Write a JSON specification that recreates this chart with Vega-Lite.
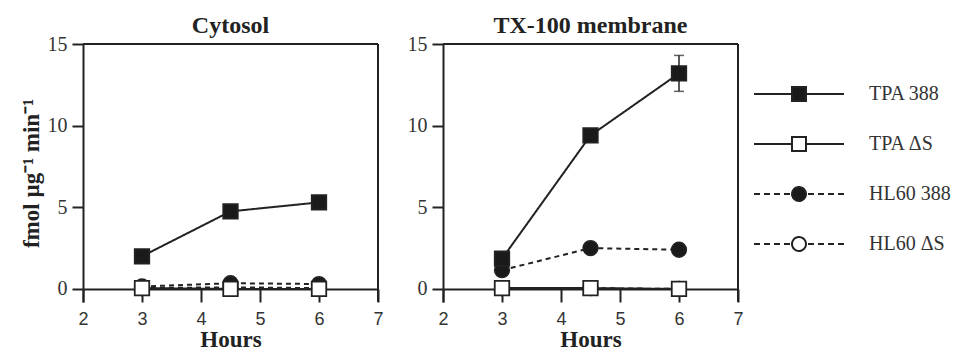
{
  "$schema": "https://vega.github.io/schema/vega-lite/v6.json",
  "padding": {"left": 20, "top": 14, "right": 5, "bottom": 0},
  "background": "white",
  "datasets": {
    "d": [
      {"panel": "Cytosol", "series": "HL60 ΔS", "cell": "HL60", "construct": "ΔS", "hours": 3, "value": 0.05},
      {"panel": "Cytosol", "series": "HL60 ΔS", "cell": "HL60", "construct": "ΔS", "hours": 4.5, "value": 0.1},
      {"panel": "Cytosol", "series": "HL60 ΔS", "cell": "HL60", "construct": "ΔS", "hours": 6, "value": 0.05},
      {"panel": "Cytosol", "series": "HL60 388", "cell": "HL60", "construct": "388", "hours": 3, "value": 0.15},
      {"panel": "Cytosol", "series": "HL60 388", "cell": "HL60", "construct": "388", "hours": 4.5, "value": 0.35},
      {"panel": "Cytosol", "series": "HL60 388", "cell": "HL60", "construct": "388", "hours": 6, "value": 0.3},
      {"panel": "Cytosol", "series": "TPA ΔS", "cell": "TPA", "construct": "ΔS", "hours": 3, "value": 0.05},
      {"panel": "Cytosol", "series": "TPA ΔS", "cell": "TPA", "construct": "ΔS", "hours": 4.5, "value": 0},
      {"panel": "Cytosol", "series": "TPA ΔS", "cell": "TPA", "construct": "ΔS", "hours": 6, "value": 0},
      {"panel": "Cytosol", "series": "TPA 388", "cell": "TPA", "construct": "388", "hours": 3, "value": 2.0},
      {"panel": "Cytosol", "series": "TPA 388", "cell": "TPA", "construct": "388", "hours": 4.5, "value": 4.75},
      {"panel": "Cytosol", "series": "TPA 388", "cell": "TPA", "construct": "388", "hours": 6, "value": 5.3},
      {"panel": "TX-100 membrane", "series": "HL60 ΔS", "cell": "HL60", "construct": "ΔS", "hours": 3, "value": 0.05},
      {"panel": "TX-100 membrane", "series": "HL60 ΔS", "cell": "HL60", "construct": "ΔS", "hours": 4.5, "value": 0.05},
      {"panel": "TX-100 membrane", "series": "HL60 ΔS", "cell": "HL60", "construct": "ΔS", "hours": 6, "value": 0},
      {"panel": "TX-100 membrane", "series": "HL60 388", "cell": "HL60", "construct": "388", "hours": 3, "value": 1.15},
      {"panel": "TX-100 membrane", "series": "HL60 388", "cell": "HL60", "construct": "388", "hours": 4.5, "value": 2.5},
      {"panel": "TX-100 membrane", "series": "HL60 388", "cell": "HL60", "construct": "388", "hours": 6, "value": 2.4},
      {"panel": "TX-100 membrane", "series": "TPA ΔS", "cell": "TPA", "construct": "ΔS", "hours": 3, "value": 0.05},
      {"panel": "TX-100 membrane", "series": "TPA ΔS", "cell": "TPA", "construct": "ΔS", "hours": 4.5, "value": 0.05},
      {"panel": "TX-100 membrane", "series": "TPA ΔS", "cell": "TPA", "construct": "ΔS", "hours": 6, "value": 0},
      {"panel": "TX-100 membrane", "series": "TPA 388", "cell": "TPA", "construct": "388", "hours": 3, "value": 1.85},
      {"panel": "TX-100 membrane", "series": "TPA 388", "cell": "TPA", "construct": "388", "hours": 4.5, "value": 9.4},
      {"panel": "TX-100 membrane", "series": "TPA 388", "cell": "TPA", "construct": "388", "hours": 6, "value": 13.2, "lo": 12.1, "hi": 14.3}
    ]
  },
  "config": {
    "view": {"stroke": null},
    "scale": {"zero": false},
    "axis": {"grid": false, "domainColor": "#222", "domainWidth": 2, "tickColor": "#222", "tickWidth": 2, "labelColor": "#333", "titleColor": "#222"},
    "title": {"font": "Liberation Serif", "fontSize": 24, "fontWeight": "bold", "color": "#222", "anchor": "middle", "offset": -4, "baseline": "alphabetic"}
  },
  "spacing": 23,
  "hconcat": [
    {
      "width": 295, "height": 258,
      "title": {"text": "Cytosol"},
      "layer": [
        {"data": {"values": [{}]}, "mark": {"type": "rule", "color": "#222", "strokeWidth": 2}, "encoding": {"x": {"datum": 7, "type": "quantitative", "scale": {"domain": [2, 7], "nice": false}}}},
        {"data": {"values": [{}]}, "mark": {"type": "rule", "color": "#222", "strokeWidth": 2}, "encoding": {"y": {"datum": 15, "type": "quantitative", "scale": {"domain": [-0.8, 15], "nice": false}}}},
        {
          "data": {"name": "d"},
          "transform": [{"filter": "datum.panel === 'Cytosol'"}],
          "layer": [
            {
              "mark": {"type": "line", "strokeWidth": 2, "color": "#222"},
              "encoding": {
                "x": {"field": "hours", "type": "quantitative", "scale": {"domain": [2, 7], "nice": false}, "axis": {"values": [2, 3, 4, 5, 6, 7], "format": "d", "offset": -13, "tickSize": 13, "labelFont": "Liberation Sans", "labelFontSize": 18, "labelPadding": 8, "labelFlush": false, "title": "Hours", "titleFont": "Liberation Serif", "titleFontSize": 23, "titleFontWeight": "bold", "titlePadding": 0}},
                "y": {"field": "value", "type": "quantitative", "scale": {"domain": [-0.8, 15], "nice": false}, "axis": {"values": [0, 5, 10, 15], "tickSize": 11, "labelFont": "Liberation Serif", "labelFontSize": 20, "labelPadding": 5, "labelFlush": false, "title": "fmol  µg⁻¹ min⁻¹", "titleFont": "Liberation Serif", "titleFontSize": 23, "titleFontWeight": "bold", "titlePadding": 4}},
                "detail": {"field": "series", "type": "nominal"},
                "strokeDash": {"field": "cell", "type": "nominal", "scale": {"domain": ["TPA", "HL60"], "range": [[1, 0], [5, 4]]}, "legend": null}
              }
            },
            {
              "mark": {"type": "point", "filled": true, "size": 210, "stroke": "#222", "strokeWidth": 1.8, "fillOpacity": 1},
              "encoding": {
                "x": {"field": "hours", "type": "quantitative", "title": "Hours", "scale": {"domain": [2, 7], "nice": false}},
                "y": {"field": "value", "type": "quantitative", "title": "fmol  µg⁻¹ min⁻¹", "scale": {"domain": [-0.8, 15], "nice": false}},
                "shape": {"field": "cell", "type": "nominal", "scale": {"domain": ["TPA", "HL60"], "range": ["square", "circle"]}, "legend": null},
                "fill": {"field": "construct", "type": "nominal", "scale": {"domain": ["388", "ΔS"], "range": ["#1a1a1a", "#ffffff"]}, "legend": null},
                "opacity": {"field": "series", "type": "nominal", "scale": {"domain": ["TPA 388", "TPA ΔS", "HL60 388", "HL60 ΔS"], "range": [1, 1, 1, 1]},
                  "legend": {
                    "orient": "none", "legendX": 706, "legendY": 40, "title": null,
                    "symbolSize": 225, "symbolOpacity": 1, "labelFont": "Liberation Serif", "labelFontSize": 20, "labelColor": "#333", "labelOffset": 60, "rowPadding": 28,
                    "encoding": {"symbols": {
                      "shape": {"value": {"expr": "datum.value === 'TPA 388' || datum.value === 'TPA ΔS' ? 'M-6,0H-0.93M0.93,0H6M-0.93,-0.93H0.93V0.93H-0.93Z' : 'M-6,0H-5.2M-4.67,0H-3.87M-3.33,0H-2.53M-2,0H-1.2M1.2,0H2M2.53,0H3.33M3.87,0H4.67M5.2,0H6M0.93,0A0.93,0.93,0,1,1,-0.93,0A0.93,0.93,0,1,1,0.93,0Z'"}},
                      "fill": {"value": {"expr": "datum.value === 'TPA 388' || datum.value === 'HL60 388' ? '#1a1a1a' : '#ffffff'"}},
                      "fillOpacity": {"value": 1},
                      "stroke": {"value": "#222"}, "strokeWidth": {"value": 2}, "strokeDash": {"value": [1, 0]}, "size": {"value": 225}
                    }}
                  }}
              }
            }
          ]
        }
      ]
    },
    {
      "width": 295, "height": 258,
      "title": {"text": "TX-100 membrane"},
      "layer": [
        {"data": {"values": [{}]}, "mark": {"type": "rule", "color": "#222", "strokeWidth": 2}, "encoding": {"x": {"datum": 7, "type": "quantitative", "scale": {"domain": [2, 7], "nice": false}}}},
        {"data": {"values": [{}]}, "mark": {"type": "rule", "color": "#222", "strokeWidth": 2}, "encoding": {"y": {"datum": 15, "type": "quantitative", "scale": {"domain": [-0.8, 15], "nice": false}}}},
        {
          "data": {"name": "d"},
          "transform": [{"filter": "datum.panel === 'TX-100 membrane'"}],
          "layer": [
            {
              "mark": {"type": "line", "strokeWidth": 2, "color": "#222"},
              "encoding": {
                "x": {"field": "hours", "type": "quantitative", "scale": {"domain": [2, 7], "nice": false}, "axis": {"values": [2, 3, 4, 5, 6, 7], "format": "d", "offset": -13, "tickSize": 13, "labelFont": "Liberation Sans", "labelFontSize": 18, "labelPadding": 8, "labelFlush": false, "title": "Hours", "titleFont": "Liberation Serif", "titleFontSize": 23, "titleFontWeight": "bold", "titlePadding": 0}},
                "y": {"field": "value", "type": "quantitative", "scale": {"domain": [-0.8, 15], "nice": false}, "axis": {"values": [0, 5, 10, 15], "tickSize": 11, "labelFont": "Liberation Serif", "labelFontSize": 20, "labelPadding": 5, "labelFlush": false, "title": null}},
                "detail": {"field": "series", "type": "nominal"},
                "strokeDash": {"field": "cell", "type": "nominal", "scale": {"domain": ["TPA", "HL60"], "range": [[1, 0], [5, 4]]}, "legend": null}
              }
            },
            {
              "transform": [{"filter": "isValid(datum.lo)"}],
              "mark": {"type": "rule", "color": "#222", "strokeWidth": 1.5},
              "encoding": {
                "x": {"field": "hours", "type": "quantitative", "scale": {"domain": [2, 7], "nice": false}},
                "y": {"field": "lo", "type": "quantitative", "title": null, "scale": {"domain": [-0.8, 15], "nice": false}},
                "y2": {"field": "hi"}
              }
            },
            {
              "transform": [{"filter": "isValid(datum.lo)"}],
              "mark": {"type": "tick", "orient": "horizontal", "color": "#222", "size": 10, "thickness": 1.5},
              "encoding": {
                "x": {"field": "hours", "type": "quantitative", "scale": {"domain": [2, 7], "nice": false}},
                "y": {"field": "lo", "type": "quantitative", "title": null, "scale": {"domain": [-0.8, 15], "nice": false}}
              }
            },
            {
              "transform": [{"filter": "isValid(datum.hi)"}],
              "mark": {"type": "tick", "orient": "horizontal", "color": "#222", "size": 10, "thickness": 1.5},
              "encoding": {
                "x": {"field": "hours", "type": "quantitative", "scale": {"domain": [2, 7], "nice": false}},
                "y": {"field": "hi", "type": "quantitative", "title": null, "scale": {"domain": [-0.8, 15], "nice": false}}
              }
            },
            {
              "mark": {"type": "point", "filled": true, "size": 210, "stroke": "#222", "strokeWidth": 1.8, "opacity": 1, "fillOpacity": 1},
              "encoding": {
                "x": {"field": "hours", "type": "quantitative", "title": "Hours", "scale": {"domain": [2, 7], "nice": false}},
                "y": {"field": "value", "type": "quantitative", "title": null, "scale": {"domain": [-0.8, 15], "nice": false}},
                "shape": {"field": "cell", "type": "nominal", "scale": {"domain": ["TPA", "HL60"], "range": ["square", "circle"]}, "legend": null},
                "fill": {"field": "construct", "type": "nominal", "scale": {"domain": ["388", "ΔS"], "range": ["#1a1a1a", "#ffffff"]}, "legend": null}
              }
            }
          ]
        }
      ]
    }
  ]
}
